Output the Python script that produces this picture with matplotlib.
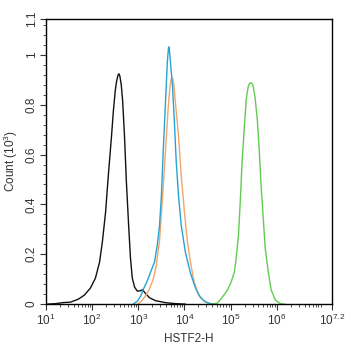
import numpy as np
import matplotlib
matplotlib.use("Agg")
from matplotlib import pyplot as plt
from matplotlib.ticker import FixedLocator, MultipleLocator, LogLocator, NullFormatter

# histogram outlines: x in log10 units, y in counts (x 10^3)
black_x = [1.01, 1.21, 1.36, 1.53, 1.70, 1.83, 1.96, 2.07, 2.16, 2.22, 2.29, 2.35, 2.42, 2.46, 2.50,
           2.53, 2.56, 2.58, 2.60, 2.63, 2.66, 2.70, 2.74, 2.79, 2.83, 2.87, 2.92, 2.98, 3.05, 3.09,
           3.15, 3.24, 3.37, 3.59, 3.80, 4.02]
black_y = [0.0, 0.002, 0.006, 0.008, 0.02, 0.036, 0.064, 0.104, 0.168, 0.248, 0.368, 0.516, 0.676, 0.776, 0.856,
           0.895, 0.918, 0.924, 0.915, 0.88, 0.816, 0.676, 0.496, 0.316, 0.184, 0.104, 0.068, 0.052, 0.054, 0.058,
           0.044, 0.026, 0.014, 0.006, 0.002, 0.0]

orange_x = [2.98, 3.07, 3.15, 3.24, 3.33, 3.39, 3.46, 3.52, 3.59, 3.65, 3.69, 3.71, 3.73, 3.75, 3.77,
            3.80, 3.87, 3.93, 4.00, 4.06, 4.13, 4.21, 4.30, 4.41, 4.52, 4.60]
orange_y = [0.0, 0.012, 0.032, 0.06, 0.104, 0.156, 0.256, 0.416, 0.616, 0.796, 0.88, 0.90, 0.908, 0.902, 0.88,
            0.816, 0.676, 0.516, 0.368, 0.256, 0.168, 0.088, 0.04, 0.014, 0.002, 0.0]

blue_x = [2.89, 2.98, 3.05, 3.11, 3.20, 3.28, 3.35, 3.41, 3.46, 3.50, 3.54, 3.59, 3.63, 3.65, 3.66,
          3.67, 3.69, 3.74, 3.78, 3.82, 3.87, 3.93, 4.02, 4.13, 4.24, 4.34, 4.45, 4.56, 4.65]
blue_y = [0.0, 0.012, 0.032, 0.06, 0.096, 0.136, 0.168, 0.236, 0.316, 0.436, 0.616, 0.816, 0.976, 1.02, 1.032,
          1.025, 0.984, 0.876, 0.736, 0.576, 0.436, 0.316, 0.208, 0.124, 0.064, 0.028, 0.010, 0.002, 0.0]

green_x = [4.60, 4.71, 4.82, 4.93, 5.01, 5.08, 5.12, 5.17, 5.21, 5.25, 5.30, 5.34, 5.38, 5.41, 5.44,
           5.47, 5.49, 5.53, 5.58, 5.62, 5.66, 5.71, 5.75, 5.82, 5.88, 5.97, 6.08, 6.18]
green_y = [0.0, 0.004, 0.028, 0.056, 0.088, 0.128, 0.184, 0.276, 0.416, 0.576, 0.716, 0.824, 0.872, 0.885, 0.888,
           0.884, 0.872, 0.828, 0.736, 0.616, 0.476, 0.336, 0.224, 0.124, 0.056, 0.016, 0.002, 0.0]

xtick_pos = [1, 2, 3, 4, 5, 6, 7.2]
ytick_pos = [0, 0.2, 0.4, 0.6, 0.8, 1.0, 1.144]
ytick_lab = ["0", "0.2", "0.4", "0.6", "0.8", "1", "1.1"]

plt.rcParams['font.family'] = ['Liberation Sans', 'DejaVu Sans']
plt.rcParams['mathtext.fontset'] = 'custom'
plt.rcParams['mathtext.rm'] = 'Liberation Sans'
plt.rcParams['mathtext.it'] = 'Liberation Sans'

fig = plt.figure(figsize=(3.46, 3.5), dpi=100)
ax = fig.add_axes([0.133, 0.131, 0.827, 0.815])

lw = 1.0
ax.plot(10 ** np.array(black_x), black_y, color='#111111', lw=lw)
ax.plot(10 ** np.array(orange_x), orange_y, color='#f2a56c', lw=lw)
ax.plot(10 ** np.array(blue_x), blue_y, color='#25a4d4', lw=lw)
ax.plot(10 ** np.array(green_x), green_y, color='#62cc52', lw=lw)

ax.set_xscale('log')
ax.set_xlim(10 ** 1, 10 ** 7.2)
ax.set_ylim(0, 1.144)

ax.xaxis.set_major_locator(FixedLocator([10 ** v for v in xtick_pos]))
ax.set_xticklabels(['$10^{%g}$' % v for v in xtick_pos])
ax.xaxis.set_minor_locator(LogLocator(base=10, subs=np.arange(2, 10), numticks=20))
ax.xaxis.set_minor_formatter(NullFormatter())

ax.yaxis.set_major_locator(FixedLocator(ytick_pos))
ax.set_yticklabels(ytick_lab, rotation=90, va='center')
ax.yaxis.set_minor_locator(MultipleLocator(0.04))

ax.tick_params(which='major', direction='out', length=4, width=0.8, labelsize=8.5, colors='#333333', pad=2)
ax.tick_params(which='minor', direction='out', length=2, width=0.6, colors='#333333')
for s in ax.spines.values():
    s.set_linewidth(1.0)

ax.set_xlabel('HSTF2-H', fontsize=8.5, color='#333333', labelpad=4)
ax.set_ylabel('Count (10$^3$)', fontsize=8.5, color='#333333', labelpad=4)

fig.savefig('out.png', dpi=100)
